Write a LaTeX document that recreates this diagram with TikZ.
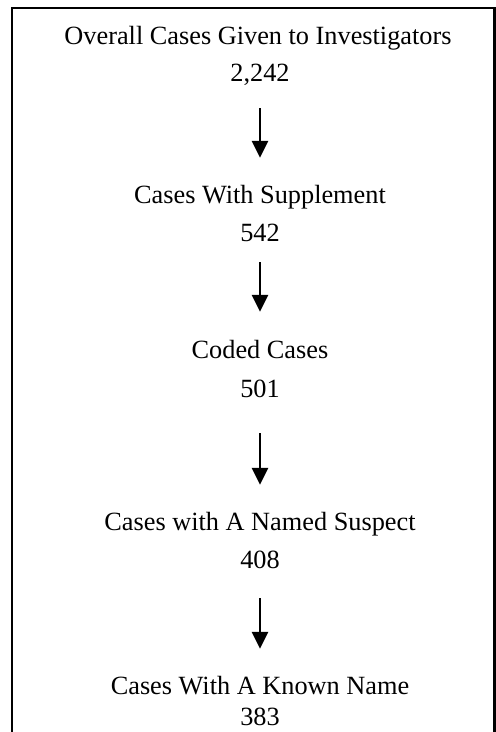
\documentclass[tikz,border=0pt]{standalone}
\usepackage{fontspec}
\setmainfont{Liberation Serif}
\usetikzlibrary{arrows.meta}

\tikzset{
  stage/.style={inner sep=0pt, text height=18pt, text depth=6pt, font=\fontsize{26.3}{30}\selectfont},
  count/.style={stage, text depth=0pt},
  flow/.style={-{Triangle[width=16pt,length=17pt]}, line width=2.5pt}
}

\begin{document}
\begin{tikzpicture}[x=1pt, y=-1pt]
  \useasboundingbox (0,0) rectangle (496,732);

  % Frame (open at the bottom)
  \draw[line width=2.6pt] (12,734) -- (12,8) -- (494.5,8) -- (494.5,734);

  % Stage titles
  \node[stage] (overall) at (258,38) {Overall Cases Given to Investigators};
  \node[stage] (supplement) at (260,197) {Cases With Supplement};
  \node[stage] (coded) at (260,352) {Coded Cases};
  \node[stage] (named) at (260,524) {Cases with A Named Suspect};
  \node[stage] (known) at (260,688) {Cases With A Known Name};

  % Case counts
  \node[count] (overalln) at (260,72) {2,242};
  \node[count] (supplementn) at (260,232) {542};
  \node[count] (codedn) at (260,388) {501};
  \node[count] (namedn) at (260,559) {408};
  \node[count] (knownn) at (260,716) {383};

  % Arrows
  \draw[flow, shorten <=27pt, shorten >=27pt] (overalln) -- (supplement);
  \draw[flow, shorten <=21pt, shorten >=28pt] (supplementn) -- (coded);
  \draw[flow, shorten <=36pt, shorten >=27pt] (codedn) -- (named);
  \draw[flow, shorten <=30pt, shorten >=27pt] (namedn) -- (known);

\end{tikzpicture}
\end{document}
